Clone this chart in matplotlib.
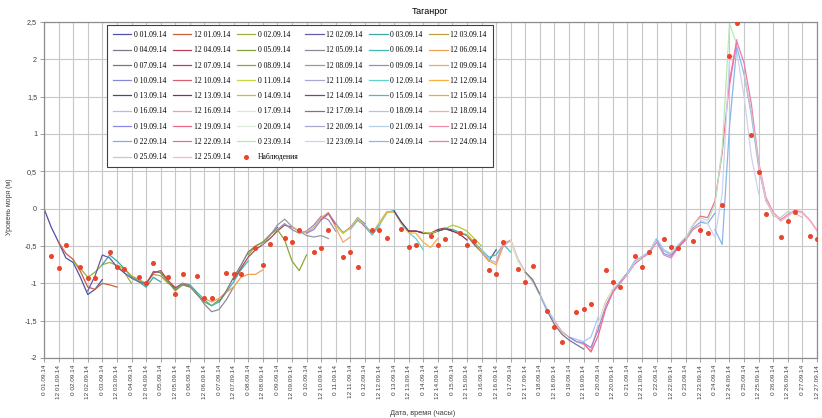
import matplotlib
matplotlib.use('Agg')
import matplotlib.pyplot as plt
from matplotlib.ticker import FuncFormatter

# forecast runs, one every 12 hours from 0h 01.09.14; values every 6 hours (m)
run_labels = ['%d %02d.09.14' % (12 * (k % 2), k // 2 + 1) for k in range(50)]

run_values = [
    [0.00, -0.25, -0.45, -0.66, -0.72, -0.92, -1.15, -1.08, -0.95],
    [-0.45, -0.60, -0.68, -0.84, -1.05, -1.08, -1.00, -1.02, -1.05],
    [-0.70, -0.80, -0.92, -0.85, -0.75, -0.72, -0.76, -0.85, -1.00],
    [-1.10, -0.90, -0.62, -0.66, -0.78, -0.86, -0.93, -0.98, -1.00],
    [-0.75, -0.62, -0.70, -0.80, -0.92, -0.98, -1.05, -0.92, -0.98],
    [-0.76, -0.80, -0.90, -0.95, -1.00, -0.88, -0.90, -1.00, -1.05],
    [-0.92, -0.97, -1.02, -0.84, -0.86, -0.98, -1.08, -1.02, -1.05],
    [-1.00, -0.86, -0.83, -0.96, -1.06, -1.00, -1.04, -1.15, -1.25],
    [-0.86, -0.98, -1.10, -1.02, -1.04, -1.15, -1.25, -1.30, -1.22],
    [-1.08, -1.00, -1.02, -1.14, -1.28, -1.38, -1.35, -1.22, -1.05],
    [-1.02, -1.12, -1.22, -1.30, -1.25, -1.12, -0.98, -0.82, -0.70],
    [-1.20, -1.25, -1.20, -1.12, -1.05, -0.92, -0.88, -0.88, -0.82],
    [-1.25, -1.10, -0.92, -0.76, -0.58, -0.50, -0.45, -0.35, -0.25],
    [-0.95, -0.80, -0.65, -0.55, -0.48, -0.40, -0.30, -0.22, -0.25],
    [-0.62, -0.50, -0.45, -0.35, -0.28, -0.42, -0.70, -0.83, -0.62],
    [-0.48, -0.36, -0.22, -0.14, -0.24, -0.30, -0.36, -0.38, -0.36, -0.40],
    [-0.28, -0.20, -0.28, -0.33, -0.30, -0.22, -0.10, -0.15, -0.30],
    [-0.25, -0.30, -0.32, -0.25, -0.12, -0.05, -0.25, -0.45, -0.38],
    [-0.33, -0.28, -0.15, -0.06, -0.20, -0.32, -0.26, -0.12, -0.20],
    [-0.15, -0.07, -0.22, -0.33, -0.25, -0.14, -0.24, -0.35, -0.22],
    [-0.22, -0.33, -0.26, -0.13, -0.22, -0.33, -0.18, -0.04, -0.05],
    [-0.28, -0.16, -0.22, -0.34, -0.20, -0.05, -0.03, -0.18, -0.30],
    [-0.22, -0.35, -0.22, -0.06, -0.02, -0.20, -0.32, -0.40, -0.55],
    [-0.20, -0.05, -0.04, -0.20, -0.32, -0.33, -0.45, -0.52, -0.40],
    [-0.03, -0.18, -0.30, -0.30, -0.32, -0.34, -0.30, -0.27, -0.30],
    [-0.30, -0.30, -0.33, -0.33, -0.28, -0.26, -0.30, -0.34, -0.42],
    [-0.32, -0.33, -0.30, -0.27, -0.22, -0.25, -0.30, -0.40, -0.50],
    [-0.30, -0.27, -0.28, -0.32, -0.36, -0.48, -0.58, -0.70, -0.55],
    [-0.28, -0.32, -0.35, -0.45, -0.55, -0.65, -0.62, -0.48, -0.58],
    [-0.35, -0.45, -0.58, -0.70, -0.75, -0.50, -0.42, -0.68, -0.85],
    [-0.55, -0.68, -0.72, -0.48, -0.43, -0.68, -0.85, -0.98, -1.15],
    [-0.72, -0.45, -0.43, -0.70, -0.85, -0.95, -1.15, -1.35, -1.50],
    [-0.43, -0.70, -0.86, -0.96, -1.16, -1.36, -1.52, -1.66, -1.72],
    [-0.85, -0.95, -1.15, -1.37, -1.55, -1.68, -1.76, -1.82, -1.88],
    [-1.15, -1.35, -1.50, -1.65, -1.72, -1.75, -1.78, -1.72, -1.45],
    [-1.50, -1.64, -1.72, -1.78, -1.82, -1.90, -1.55, -1.25, -1.08],
    [-1.72, -1.78, -1.80, -1.86, -1.62, -1.30, -1.10, -0.98, -0.86],
    [-1.80, -1.92, -1.70, -1.35, -1.12, -1.00, -0.88, -0.74, -0.66],
    [-1.55, -1.27, -1.08, -0.98, -0.87, -0.72, -0.65, -0.58, -0.45],
    [-1.10, -0.98, -0.86, -0.70, -0.64, -0.58, -0.40, -0.56, -0.62],
    [-0.87, -0.72, -0.64, -0.58, -0.40, -0.55, -0.60, -0.48, -0.38],
    [-0.66, -0.60, -0.45, -0.62, -0.66, -0.52, -0.42, -0.28, -0.22],
    [-0.42, -0.60, -0.64, -0.50, -0.40, -0.26, -0.18, -0.20, -0.06],
    [-0.62, -0.52, -0.40, -0.22, -0.10, -0.12, 0.10, 0.75, 1.70, 2.26],
    [-0.40, -0.22, -0.12, -0.16, 0.05, 0.80, 2.48, 2.20],
    [-0.15, -0.20, -0.38, 0.20, 2.00, 2.10, 1.50, 0.70, 0.20],
    [-0.28, -0.48, 1.10, 2.17, 1.80, 1.25, 0.55, 0.10, -0.05],
    [1.65, 2.24, 1.95, 1.40, 0.62, 0.15, -0.05, -0.15, -0.08, -0.02, -0.05, -0.15, -0.29],
    [1.80, 1.30, 0.60, 0.12, -0.10, -0.12, -0.04, -0.06, -0.12],
    [0.58, 0.12, -0.06, -0.17, -0.10, -0.03, -0.06, -0.16, -0.30],
]

run_colors = [
    '#5050a8', '#c8603c', '#98b040', '#6a58a8', '#3aa8a8', '#b8a040',
    '#7a7a88', '#b84060', '#80a038', '#8a8a9a', '#40b8b8', '#f0a050',
    '#787878', '#a84858', '#88a830', '#9898a8', '#9090c0', '#f0a868',
    '#8888d8', '#d86070', '#c8d840', '#a8a8d8', '#60d0d0', '#f8b040',
    '#484888', '#982848', '#b8c830', '#585878', '#40c0c8', '#f8a828',
    '#b8b8f0', '#f898a8', '#d0eed0', '#787888', '#a8c8f0', '#f8a8a8',
    '#8888e8', '#f06888', '#d8f0d8', '#a8a8d8', '#b0d0f0', '#f088a8',
    '#88a8f0', '#f06898', '#b8e8b8', '#d0d0f0', '#88b8e8', '#f078a8',
    '#c8c8c8', '#f8b8c8',
]

# observations (hours from 0h 01.09.14)
obs_hours = [6, 12, 18, 30, 36, 42, 54, 60, 66, 78, 84, 90, 102, 108, 114,
             126, 132, 138, 150, 156, 162, 174, 180, 186, 198, 204, 210,
             222, 228, 234, 246, 252, 258, 270, 276, 282, 294, 300, 306,
             318, 324, 330, 342, 348, 354, 366, 372, 378, 390, 396, 402,
             414, 420, 426, 438, 444, 450, 462, 468, 474, 486, 492, 498,
             510, 516, 522, 534, 540, 546, 558, 564, 570, 582, 588, 594,
             606, 612, 618, 630, 636]
obs_level = [-0.63, -0.80, -0.48, -0.78, -0.93, -0.93, -0.58, -0.78, -0.81,
             -0.92, -0.99, -0.73, -0.91, -1.14, -0.88, -0.90, -1.20, -1.19,
             -0.86, -0.88, -0.88, -0.53, -0.75, -0.47, -0.39, -0.44, -0.28,
             -0.58, -0.53, -0.29, -0.65, -0.58, -0.78, -0.28, -0.28, -0.39,
             -0.27, -0.51, -0.48, -0.37, -0.49, -0.41, -0.33, -0.49, -0.43,
             -0.82, -0.88, -0.45, -0.81, -0.98, -0.77, -1.37, -1.58, -1.79,
             -1.38, -1.35, -1.28, -0.82, -0.98, -1.05, -0.64, -0.78, -0.58,
             -0.41, -0.51, -0.53, -0.43, -0.29, -0.33, 0.05, 2.04, 2.49,
             0.99, 0.49, -0.07, -0.38, -0.17, -0.04, -0.37, -0.41]

x_ticks = list(range(0, 637, 12))
x_ticklabels = ['%d %02d.09.14' % (h % 24, h // 24 + 1) for h in x_ticks]
y_ticks = [-2, -1.5, -1, -0.5, 0, 0.5, 1, 1.5, 2, 2.5]

fig = plt.figure(figsize=(8.22, 4.18), dpi=100)
ax = fig.add_axes([44 / 822, 60 / 418, 773 / 822, 336 / 418])

for k, vals in enumerate(run_values):
    hours = [12 * k + 6 * i for i in range(len(vals))]
    ax.plot(hours, vals, color=run_colors[k], lw=0.9, label=run_labels[k])

ax.plot(obs_hours, obs_level, ls='none', marker='o', ms=2.6, color='#e8452c',
        mec='#e8452c', label='Наблюдения', zorder=5)

ax.set_xlim(0, 636)
ax.set_ylim(-2, 2.5)
ax.set_xticks(x_ticks)
ax.set_xticklabels(x_ticklabels, rotation=90, fontsize=4.6,
                   family='Liberation Sans', color='#404040')
ax.set_yticks(y_ticks)
ax.yaxis.set_major_formatter(FuncFormatter(lambda v, p: ('%g' % v).replace('.', ',')))
for t in ax.get_yticklabels():
    t.set_family('Liberation Sans')
    t.set_fontsize(5.2)
    t.set_color('#404040')
ax.tick_params(length=3, width=0.6, color='#909090', pad=2)

ax.grid(True, color='#c8c8c8', lw=0.8)
ax.set_axisbelow(True)
for s in ax.spines.values():
    s.set_color('#8c8c8c')
    s.set_linewidth(0.9)

ax.set_title('Таганрог', fontsize=6.5, family='Liberation Sans', pad=6)
ax.set_xlabel('Дата, время (часы)', fontsize=5.3, family='Liberation Sans',
              color='#404040')
ax.xaxis.set_label_coords(0.49, -0.155)
ax.set_ylabel('Уровень моря (м)', fontsize=5.0, family='Liberation Sans',
              color='#404040')
ax.yaxis.set_label_coords(-0.04, 0.45)

# legend is filled row by row in the reference
handles, labels = ax.get_legend_handles_labels()
order = [i for c in range(6) for i in range(c, len(handles), 6)]
leg = ax.legend([handles[i] for i in order], [labels[i] for i in order],
                ncol=6, loc='upper left', bbox_to_anchor=(0.0815, 0.991),
                borderaxespad=0, prop={'family': 'Liberation Serif', 'size': 5.5},
                handlelength=2.4, handletextpad=0.3, columnspacing=0.9,
                labelspacing=0.95, borderpad=0.8, fancybox=False,
                framealpha=1, edgecolor='#404040')
leg.get_frame().set_linewidth(0.8)

fig.savefig('out.png', dpi=100)
